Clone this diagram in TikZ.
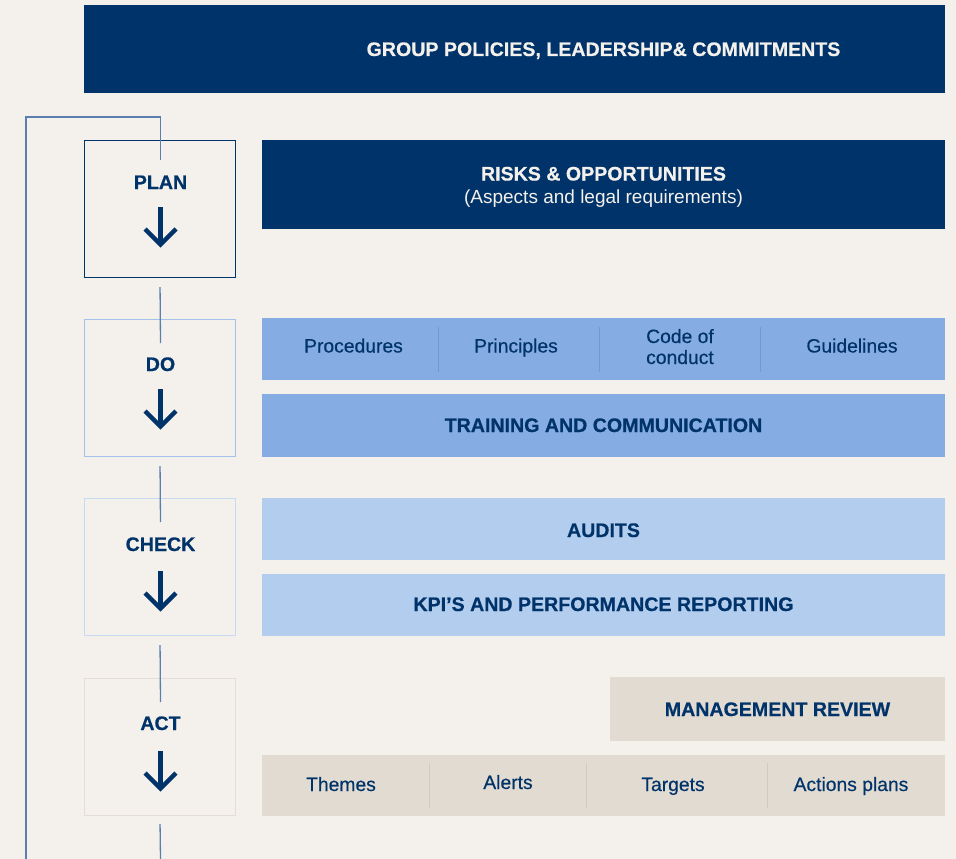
\documentclass[tikz,border=0pt]{standalone}
\usepackage{fontspec}
\setmainfont{Liberation Sans}
\newfontfamily\medfont[FakeBold=0.35]{Liberation Sans}
\newfontfamily\heavyfont[FakeBold=0.5]{Liberation Sans Bold}
\definecolor{bg}{HTML}{F4F1EC}
\definecolor{navy}{HTML}{003369}
\definecolor{midblue}{HTML}{85ACE3}
\definecolor{lightblue}{HTML}{B3CDEE}
\definecolor{beige}{HTML}{E2DBD1}
\definecolor{doedge}{HTML}{A5C2EA}
\definecolor{checkedge}{HTML}{C8DAF1}
\definecolor{actedge}{HTML}{E3DDD5}
\definecolor{linkc}{HTML}{5A7FAF}
\definecolor{sepblue}{HTML}{6F9AD6}
\definecolor{sepbeige}{HTML}{D3CABE}
\begin{document}
\begin{tikzpicture}[x=1pt,y=-1pt,
  box/.style={rectangle,inner sep=0pt,anchor=north west,draw=none},
  stagebox/.style={rectangle,inner sep=0pt,anchor=north west,minimum width=151pt,minimum height=137pt,fill=bg,line width=1.1pt},
  txt/.style={inner sep=0pt,anchor=base,text=navy,font=\fontsize{19.3}{21}\medfont,align=center},
  btxt/.style={txt,font=\fontsize{19.6}{21}\heavyfont},
  wtxt/.style={btxt,text=bg},
  link/.style={draw=linkc,line width=1.3pt},
  darrow/.style={draw=navy,line width=4.4pt,miter limit=10},
  sep/.style={line width=1pt}
]
\fill[bg] (0,0) rectangle (956,859);
\useasboundingbox (0,0) rectangle (956,859);

% top banner
\node[box,fill=navy,minimum width=861pt,minimum height=88pt] (group) at (84,5) {};
\node[wtxt] (grouptext) at (603.5,56) {GROUP POLICIES, LEADERSHIP\& COMMITMENTS};

% stage boxes
\node[stagebox,draw=navy] (plan) at (84,140) {};
\node[stagebox,draw=doedge] (do) at (84,319) {};
\node[stagebox,draw=checkedge] (check) at (84,498) {};
\node[stagebox,draw=actedge] (act) at (84,678) {};

\node[btxt] (planlbl) at (160.5,189) {PLAN};
\node[btxt] (dolbl) at (160.5,371) {DO};
\node[btxt] (checklbl) at (160.5,551) {CHECK};
\node[btxt] (actlbl) at (160.5,730) {ACT};

% loop and connectors
\coordinate (loopc) at (160.5,117);
\coordinate (loopl) at (26,117);
\coordinate (loopb) at (26,859);
\coordinate (endb) at (160.5,859);
\draw[link] ([yshift=29pt]planlbl.base) -- (loopc) -- (loopl) -- (loopb);
\draw[link] ([yshift=-9pt]plan.south) -- ([yshift=28pt]dolbl.base);
\draw[link] ([yshift=-9pt]do.south) -- ([yshift=29pt]checklbl.base);
\draw[link] ([yshift=-9pt]check.south) -- ([yshift=28pt]actlbl.base);
\draw[link] ([yshift=-8pt]act.south) -- (endb);

% down arrows
\foreach \n/\y in {plan/207,do/389,check/571,act/751}{
  \draw[darrow] (160.5,\y) -- (160.5,\y+36);
  \draw[darrow] (145,\y+22) -- (160.5,\y+37.5) -- (176,\y+22);
}

% PLAN
\node[box,fill=navy,minimum width=683pt,minimum height=89pt] (risks) at (262,140) {};
\node[wtxt] (riskst) at (603.5,180.5) {RISKS \& OPPORTUNITIES};
\node[txt,text=bg,font=\fontsize{19}{21}\selectfont] (riskss) at (603.5,203.5) {(Aspects and legal requirements)};

% DO
\node[box,fill=midblue,minimum width=683pt,minimum height=62pt] (docs) at (262,318) {};
\draw[sep,draw=sepblue] (438,327) -- (438,372) (599,327) -- (599,372) (760,327) -- (760,372);
\node[txt] (proc) at (353.5,352.5) {Procedures};
\node[txt] (princ) at (516,352.5) {Principles};
\node[txt] (code) at (680,364) {Code of\\conduct};
\node[txt] (guide) at (852,352.5) {Guidelines};
\node[box,fill=midblue,minimum width=683pt,minimum height=63pt] (train) at (262,394) {};
\node[btxt] (traint) at (603.5,432) {TRAINING AND COMMUNICATION};

% CHECK
\node[box,fill=lightblue,minimum width=683pt,minimum height=62pt] (audits) at (262,498) {};
\node[btxt] (auditst) at (603.5,537) {AUDITS};
\node[box,fill=lightblue,minimum width=683pt,minimum height=62pt] (kpi) at (262,574) {};
\node[btxt] (kpit) at (603.5,611) {KPI’S AND PERFORMANCE REPORTING};

% ACT
\node[box,fill=beige,minimum width=335pt,minimum height=64pt] (mgmt) at (610,677) {};
\node[btxt] (mgmtt) at (777.5,716) {MANAGEMENT REVIEW};
\node[box,fill=beige,minimum width=683pt,minimum height=61pt] (acts) at (262,755) {};
\draw[sep,draw=sepbeige] (429,763) -- (429,808) (586,763) -- (586,808) (767,763) -- (767,808);
\node[txt] (themes) at (341,791) {Themes};
\node[txt] (alerts) at (508,789) {Alerts};
\node[txt] (targets) at (673,791) {Targets};
\node[txt] (aplans) at (851,791) {Actions plans};
\end{tikzpicture}
\end{document}
